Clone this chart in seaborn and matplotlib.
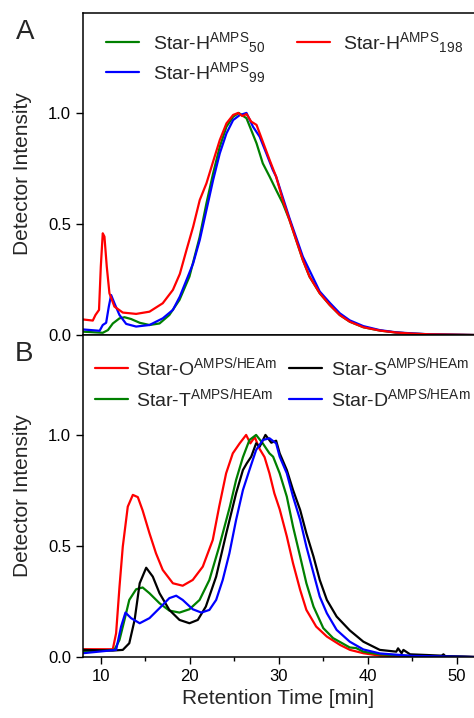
import numpy as np
import pandas as pd
import matplotlib
matplotlib.use("Agg")
import matplotlib.pyplot as plt
import seaborn as sns

# ---- Panel A: Star-H (AMPS homopolymer arms) ----
t_h50 = [8, 10.22, 10.8, 11.35, 12.1, 12.66, 13.4, 14.37, 15.47, 16.6, 17.7, 18.84, 19.96, 21.1, 21.87,
         22.62, 23.37, 24.12, 24.87, 25.5, 26.37, 26.9, 27.5, 28.2, 28.97, 29.7, 30.45, 31.2, 31.95,
         32.7, 33.45, 34.6, 35.73, 36.85, 37.97, 39.5, 41.35, 43.2, 45.1, 47, 52]
i_h50 = [0.015, 0.01, 0.022, 0.052, 0.075, 0.08, 0.072, 0.055, 0.045, 0.052, 0.09, 0.158, 0.263, 0.44, 0.593,
         0.728, 0.848, 0.938, 0.983, 1.0, 0.976, 0.923, 0.863, 0.773, 0.713, 0.653, 0.593, 0.518, 0.428,
         0.338, 0.263, 0.188, 0.135, 0.09, 0.06, 0.035, 0.02, 0.011, 0.006, 0.003, 0.0]

t_h99 = [8, 9.87, 10.22, 10.6, 10.9, 11.16, 11.53, 12.1, 12.85, 13.97, 15.47, 16.96, 18.1, 18.88, 19.63,
         20.38, 21.12, 21.87, 22.62, 23.37, 24.12, 24.87, 25.6, 26.37, 27.1, 27.85, 28.6, 29.33, 29.7,
         31.2, 32.7, 34.6, 35.73, 36.85, 37.97, 39.5, 41.35, 43.2, 45.1, 47, 52]
i_h99 = [0.025, 0.019, 0.045, 0.055, 0.128, 0.18, 0.143, 0.09, 0.05, 0.038, 0.045, 0.075, 0.113, 0.173, 0.248,
         0.323, 0.428, 0.563, 0.698, 0.818, 0.908, 0.968, 0.99, 1.0, 0.938, 0.893, 0.818, 0.743, 0.713,
         0.526, 0.353, 0.196, 0.145, 0.098, 0.066, 0.04, 0.022, 0.012, 0.007, 0.003, 0.0]

t_h198 = [8, 9.1, 9.4, 9.8, 10.0, 10.22, 10.41, 10.67, 10.97, 11.53, 12.47, 13.97, 15.47, 16.96, 18.1,
          18.88, 19.63, 20.38, 21.12, 21.87, 22.62, 23.37, 24.12, 24.87, 25.43, 25.9, 26.37, 26.9, 27.5,
          28.2, 28.97, 29.7, 30.45, 31.2, 31.95, 32.7, 33.45, 34.6, 35.73, 36.85, 37.97, 39.5, 41.35,
          43.2, 45.1, 47, 52]
i_h198 = [0.07, 0.065, 0.09, 0.113, 0.308, 0.458, 0.443, 0.308, 0.188, 0.128, 0.101, 0.095, 0.105, 0.143, 0.203,
          0.275, 0.383, 0.488, 0.608, 0.683, 0.781, 0.878, 0.953, 0.991, 1.0, 0.986, 0.995, 0.961, 0.946,
          0.871, 0.788, 0.713, 0.608, 0.518, 0.428, 0.338, 0.263, 0.188, 0.135, 0.09, 0.06, 0.035, 0.02,
          0.011, 0.006, 0.003, 0.0]

# ---- Panel B: AMPS/HEAm copolymer stars ----
t_o = [8, 11.35, 11.72, 12.1, 12.47, 13.03, 13.6, 14.16, 14.7, 15.47, 16.2, 16.96, 18.1, 19.2, 20.33,
       21.46, 22.58, 23.3, 24.08, 24.83, 25.6, 26.33, 26.8, 27.3, 27.8, 28.4, 28.95, 29.5, 30.1, 30.9,
       31.6, 32.4, 33.1, 34.2, 35.4, 36.9, 38, 39.5, 41.35, 45, 52]
i_o = [0.035, 0.035, 0.107, 0.316, 0.497, 0.677, 0.73, 0.72, 0.66, 0.557, 0.467, 0.392, 0.332, 0.321, 0.347,
       0.407, 0.527, 0.677, 0.827, 0.917, 0.962, 1.0, 0.962, 0.99, 0.94, 0.90, 0.827, 0.737, 0.665, 0.543,
       0.422, 0.302, 0.212, 0.137, 0.092, 0.054, 0.032, 0.017, 0.006, 0.002, 0.0]

t_t = [8, 11.53, 12.1, 12.66, 13.2, 13.97, 14.7, 15.47, 16.6, 17.7, 18.84, 19.96, 21.1, 22.2, 23.3, 24.5,
       25.2, 25.97, 26.7, 27.45, 28.2, 28.95, 29.36, 30.1, 30.9, 31.6, 32.4, 33.1, 33.9, 35, 36.1, 37.97,
       38.7, 39.5, 41.35, 45, 52]
i_t = [0.024, 0.032, 0.077, 0.167, 0.257, 0.305, 0.313, 0.287, 0.242, 0.209, 0.2, 0.215, 0.257, 0.347, 0.497, 0.677,
       0.797, 0.9, 0.977, 1.0, 0.962, 0.917, 0.902, 0.827, 0.722, 0.587, 0.452, 0.332, 0.227, 0.13, 0.085, 0.043,
       0.04, 0.024, 0.012, 0.004, 0.0]

t_s = [8, 11.35, 12.47, 13.2, 13.8, 14.37, 15.1, 15.84, 16.6, 17.7, 18.84, 19.96, 20.9, 21.8, 22.96, 24.1,
       25.2, 25.97, 26.4, 26.9, 27.45, 27.85, 28.5, 29.16, 29.7, 30.1, 30.9, 31.6, 32.4, 33.1, 33.9, 34.6,
       35.4, 36.5, 37.97, 39.5, 41.35, 43.2, 43.4, 43.8, 44.0, 44.75, 46.6, 48.3, 48.5, 48.7, 50.7, 52]
i_s = [0.032, 0.029, 0.032, 0.062, 0.167, 0.332, 0.402, 0.362, 0.287, 0.212, 0.167, 0.152, 0.167, 0.227, 0.362, 0.557,
       0.737, 0.842, 0.872, 0.902, 0.962, 0.947, 1.0, 0.965, 0.974, 0.917, 0.842, 0.752, 0.662, 0.557, 0.452, 0.347,
       0.257, 0.182, 0.12, 0.069, 0.032, 0.024, 0.039, 0.017, 0.032, 0.012, 0.009, 0.006, 0.012, 0.004, 0.002, 0.0]

t_d = [8, 11.72, 12.28, 12.77, 13.4, 14.37, 15.47, 16.6, 17.7, 18.47, 19.2, 20.33, 21.3, 22.2, 22.96, 23.7,
       24.45, 25.2, 25.97, 26.7, 27.45, 28.2, 28.95, 29.7, 30.1, 30.9, 31.6, 32.4, 33.1, 33.9, 34.6, 35.4,
       36.5, 37.97, 39.5, 41.35, 45, 52]
i_d = [0.017, 0.032, 0.137, 0.2, 0.175, 0.152, 0.175, 0.22, 0.265, 0.276, 0.257, 0.215, 0.2, 0.212, 0.257, 0.347,
       0.467, 0.617, 0.752, 0.842, 0.932, 0.977, 0.985, 0.962, 0.902, 0.827, 0.722, 0.617, 0.497, 0.377, 0.272, 0.197,
       0.122, 0.069, 0.034, 0.016, 0.005, 0.0]

labels_a = [r"Star-H$^{\mathrm{AMPS}}{}_{\mathrm{50}}$",
            r"Star-H$^{\mathrm{AMPS}}{}_{\mathrm{99}}$",
            r"Star-H$^{\mathrm{AMPS}}{}_{\mathrm{198}}$"]
labels_b = [r"Star-O$^{\mathrm{AMPS/HEAm}}$", r"Star-T$^{\mathrm{AMPS/HEAm}}$",
            r"Star-S$^{\mathrm{AMPS/HEAm}}$", r"Star-D$^{\mathrm{AMPS/HEAm}}$"]

sns.set_style("ticks")
plt.rcParams['font.family'] = ['Liberation Sans', 'DejaVu Sans']
plt.rcParams['mathtext.fontset'] = 'custom'
plt.rcParams['mathtext.rm'] = 'Liberation Sans'
plt.rcParams['mathtext.it'] = 'Liberation Sans:italic'
plt.rcParams['mathtext.bf'] = 'Liberation Sans:bold'

fig = plt.figure(figsize=(4.74, 7.18), dpi=100)
left = 83 / 474
width = 1 - left
ax_a = fig.add_axes([left, 1 - 335 / 718, width, 322 / 718])
ax_b = fig.add_axes([left, 1 - 657 / 718, width, 322 / 718])

lw = 1.6
sns.lineplot(x=t_h50, y=i_h50, color='#008000', lw=lw, ax=ax_a, label=labels_a[0])
sns.lineplot(x=t_h99, y=i_h99, color='#0000ff', lw=lw, ax=ax_a, label=labels_a[1])
sns.lineplot(x=t_h198, y=i_h198, color='#ff0000', lw=lw, ax=ax_a, label=labels_a[2])

sns.lineplot(x=t_o, y=i_o, color='#ff0000', lw=lw, ax=ax_b, label=labels_b[0])
sns.lineplot(x=t_t, y=i_t, color='#008000', lw=lw, ax=ax_b, label=labels_b[1])
sns.lineplot(x=t_s, y=i_s, color='#000000', lw=lw, ax=ax_b, label=labels_b[2])
sns.lineplot(x=t_d, y=i_d, color='#0000ff', lw=lw, ax=ax_b, label=labels_b[3])

for ax in (ax_a, ax_b):
    ax.set_xlim(8, 8 + 391 / 8.9)
    ax.set_ylim(0, 1.45)
    ax.set_xticks([10, 20, 30, 40, 50])
    ax.set_xticks([15, 25, 35, 45], minor=True)
    ax.set_yticks([0.0, 0.5, 1.0])
    ax.set_yticklabels(['0.0', '0.5', '1.0'])
    ax.tick_params(axis='both', which='major', direction='out', length=5, width=1,
                   labelsize=12, color='black', labelcolor='black')
    ax.tick_params(axis='x', which='minor', direction='out', length=3, width=1, color='black')
    ax.spines['right'].set_visible(False)
    for s in ('left', 'bottom', 'top'):
        ax.spines[s].set_linewidth(1.1)
        ax.spines[s].set_color('black')
    ax.set_ylabel('Detector Intensity', fontsize=15)
    ax.yaxis.set_label_coords(-0.13, 0.5)

ax_a.set_xticklabels([])
ax_a.set_xlabel('')
ax_b.set_xlabel('Retention Time [min]', fontsize=15)

ax_a.legend(ncol=2, loc='upper left', bbox_to_anchor=(0.03, 0.983), frameon=False, fontsize=14,
            handlelength=1.7, handletextpad=0.7, columnspacing=1.6, labelspacing=0.25,
            borderaxespad=0.2)
ax_b.legend(ncol=2, loc='upper left', bbox_to_anchor=(0.0, 0.975), frameon=False, fontsize=14,
            handlelength=1.7, handletextpad=0.45, columnspacing=0.6, labelspacing=0.4,
            borderaxespad=0.2)

fig.text(25 / 474, 1 - 32 / 718, 'A', fontsize=20, ha='center', va='center')
fig.text(24 / 474, 1 - 354 / 718, 'B', fontsize=20, ha='center', va='center')

fig.savefig('out.png', dpi=100)
